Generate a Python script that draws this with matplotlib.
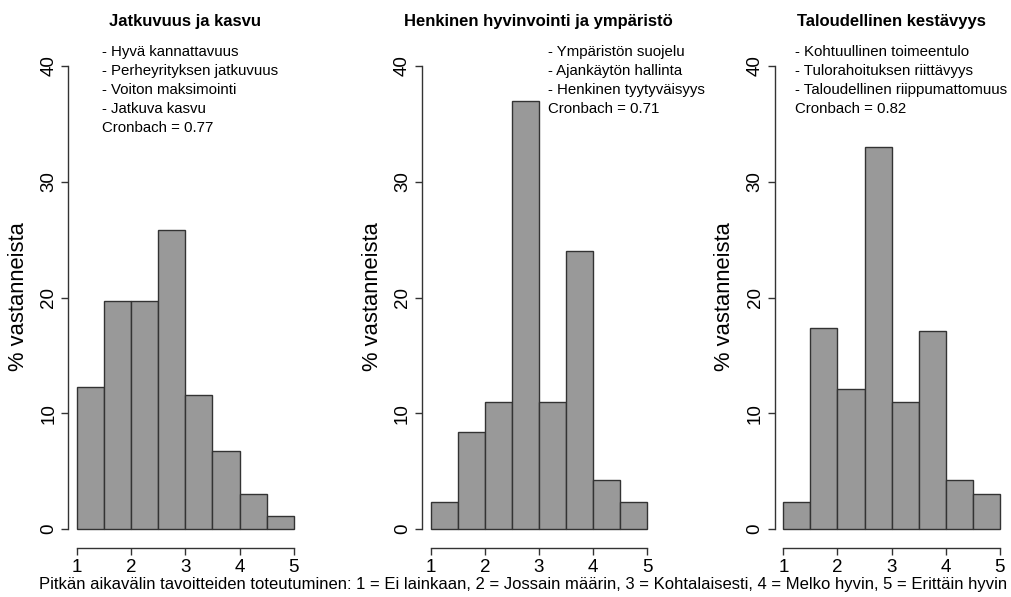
import matplotlib
matplotlib.use("Agg")
import matplotlib.pyplot as plt

plt.rcParams["font.family"] = ["Liberation Sans", "DejaVu Sans"]

W, H = 1011, 597

bin_edges = [1.0, 1.5, 2.0, 2.5, 3.0, 3.5, 4.0, 4.5, 5.0]

titles = [
    "Jatkuvuus ja kasvu",
    "Henkinen hyvinvointi ja ympäristö",
    "Taloudellinen kestävyys",
]

pct_jatkuvuus = [12.3, 19.7, 19.7, 25.8, 11.6, 6.7, 3.0, 1.1]
pct_henkinen = [2.3, 8.4, 11.0, 37.0, 11.0, 24.0, 4.2, 2.3]
pct_talous = [2.3, 17.4, 12.1, 33.0, 11.0, 17.1, 4.2, 3.0]
series = [pct_jatkuvuus, pct_henkinen, pct_talous]

items = [
    ["- Hyvä kannattavuus", "- Perheyrityksen jatkuvuus",
     "- Voiton maksimointi", "- Jatkuva kasvu"],
    ["- Ympäristön suojelu", "- Ajankäytön hallinta",
     "- Henkinen tyytyväisyys"],
    ["- Kohtuullinen toimeentulo", "- Tulorahoituksen riittävyys",
     "- Taloudellinen riippumattomuus"],
]
cronbach = [0.77, 0.71, 0.82]

xticks = [1, 2, 3, 4, 5]
yticks = [0, 10, 20, 30, 40]

caption = ("Pitkän aikavälin tavoitteiden toteutuminen: 1 = Ei lainkaan, "
           "2 = Jossain määrin, 3 = Kohtalaisesti, 4 = Melko hyvin, "
           "5 = Erittäin hyvin")

# plot regions in pixels: left, right (top/bottom shared)
regions = [(68.3, 302.4), (422.0, 655.7), (774.7, 1008.4)]
top_px, bot_px = 47.5, 547.5
text_x_px = [101.7, 548.3, 795.0]


def fx(px):
    return px / W


def fy(py):
    return 1 - py / H


fig = plt.figure(figsize=(W / 100, H / 100), dpi=100)

for i, (l, r) in enumerate(regions):
    ax = fig.add_axes([fx(l), fy(bot_px), (r - l) / W, (bot_px - top_px) / H])
    widths = [b - a for a, b in zip(bin_edges[:-1], bin_edges[1:])]
    ax.bar(bin_edges[:-1], series[i], width=widths, align="edge",
           color="#999999", edgecolor="#333333", linewidth=1.0)
    ax.set_xlim(0.84, 5.16)
    ax.set_ylim(-1.6, 41.6)
    for s in ["top", "right"]:
        ax.spines[s].set_visible(False)
    ax.spines["left"].set_bounds(0, 40)
    ax.spines["bottom"].set_bounds(1, 5)
    for s in ["left", "bottom"]:
        ax.spines[s].set_color("#333333")
        ax.spines[s].set_linewidth(1.0)
    ax.set_xticks(xticks)
    ax.set_yticks(yticks)
    ax.tick_params(direction="out", length=5, width=1.0, color="#333333",
                   labelsize=13.5, pad=3)
    for lab in ax.get_yticklabels():
        lab.set_rotation(90)
        lab.set_verticalalignment("center")
    ax.patch.set_alpha(0)

    cx = (l + r) / 2
    fig.text(fx(cx), fy(21.7), titles[i], ha="center", va="center",
             fontsize=12, fontweight="bold")
    fig.text(fx(l - 50), fy(297), "% vastanneista", rotation=90,
             ha="center", va="center", fontsize=15.8)
    lines = items[i] + ["Cronbach = %.2f" % cronbach[i]]
    for k, line in enumerate(lines):
        fig.text(fx(text_x_px[i]), fy(51.7 + 19 * k), line, ha="left",
                 va="center", fontsize=10.8)

fig.text(fx(523), fy(584), caption, ha="center", va="center", fontsize=12)

fig.savefig("out.png", dpi=100, facecolor="white")
